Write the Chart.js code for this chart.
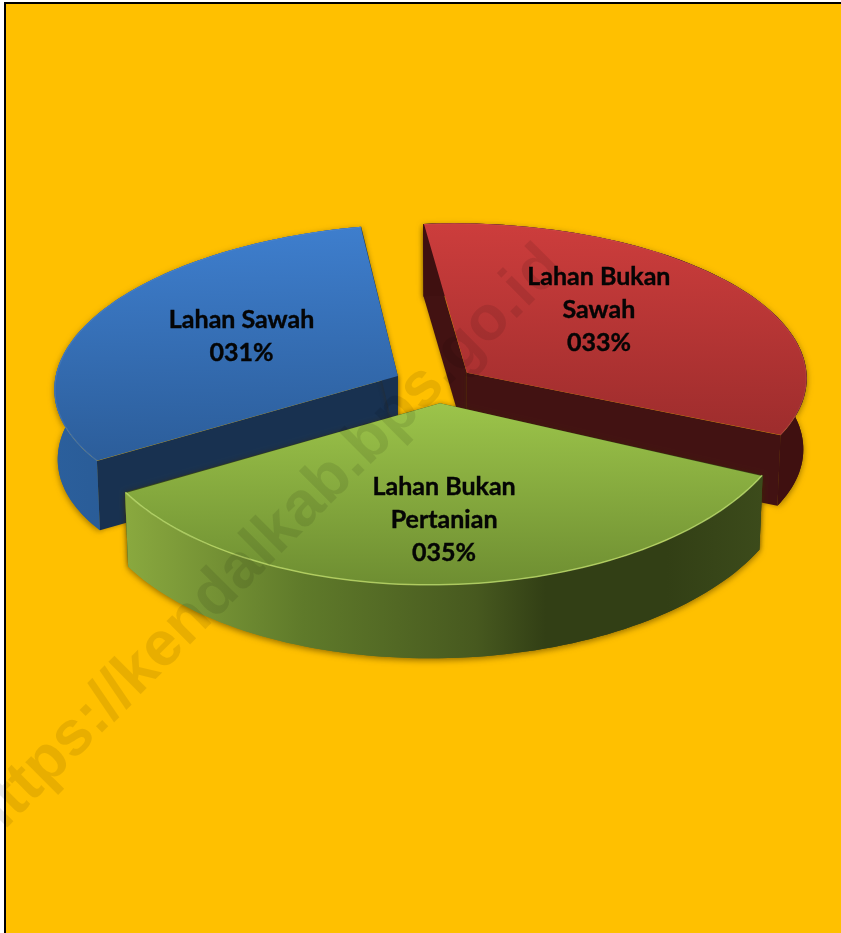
<!DOCTYPE html>
<html>
<head>
<meta charset="utf-8">
<title>Penggunaan Lahan</title>
<script src="https://cdn.jsdelivr.net/npm/chart.js@4"></script>
<style>
  html, body { margin: 0; padding: 0; background: #fff; overflow: hidden; }
  #kotak {
    position: absolute; left: 4px; top: 2px; right: 0; bottom: 0;
    background: #FFC000; border-left: 2px solid #000; border-top: 2px solid #000;
  }
  #grafik { position: absolute; left: 0; top: 0; }
</style>
</head>
<body>
<div id="kotak"></div>
<canvas id="grafik" width="841" height="933"></canvas>
<script>
const categories = ['Lahan Sawah', 'Lahan Bukan Sawah', 'Lahan Bukan Pertanian'];
const labelLines = [['Lahan Sawah'], ['Lahan Bukan', 'Sawah'], ['Lahan Bukan', 'Pertanian']];
const values = [31, 33, 35];

const topStops = [
    [[0, '#3e7ecd'], [0.78, '#2b5c98']],
    [[0, '#cc3d3c'], [0.72, '#9c2c2c']],
    [[0.5, '#9cc44a'], [1, '#6f8f32']]
];
const wallStops = [
    [[0, '#2b5f9c'], [1, '#234e80']],
    [[0, '#3f1010'], [1, '#3f1010']],
    [[0, '#8aa93f'], [0.28, '#5f7a2a'], [0.55, '#47591f'], [0.66, '#323f15'], [0.85, '#323f15'], [1, '#3c4b1b']]
];
const cutColors = ['#183150', '#421212', '#3a4a1a'];
const rimColors = ['rgba(255,255,255,0.08)', 'rgba(255,255,255,0.06)', 'rgba(205,235,125,0.65)'];
const labelAngles = [213.2, 311.6, 86.7];
const labelFractions = [0.556, 0.596, 0.65];

// kemiringan tiap irisan: x' = a x + c y, y' = e x + d y, lalu geser dan tebal
const vistas = [
    { a: 0.995, c: -0.02, e: -0.03, d: 0.44, gx: -1, gy: -1, z: 70 },
    { a: 0.978, c: 0.002, e: 0.015, d: 0.43, gx: 0, gy: -1, z: 71 },
    { a: 1.015, c: -0.04, e: 0.006, d: 0.519, gx: 4, gy: -2, z: 75 }
];

const pieRadius = 342;
const explode = 164;
const paddingBawah = 165;

// titik pada irisan setelah dimiringkan
function titik(arc, i, sudut, r, bawah) {
    const v = vistas[i];
    const mid = (arc.startAngle + arc.endAngle) / 2;
    const d = explode / 4;
    const k = bawah ? 0.99 : 1;
    const fx = Math.cos(mid) * d + k * r * Math.cos(sudut);
    const fy = Math.sin(mid) * d + k * r * Math.sin(sudut);
    return {
        x: arc.x + v.gx + v.a * fx + v.c * fy,
        y: arc.y + v.gy + v.e * fx + v.d * fy + (bawah ? v.z : 0)
    };
}

function jariLuar(arc) {
    const fix = 1 - Math.sin(Math.min(Math.PI, arc.circumference));
    return arc.outerRadius + (explode / 4) * fix;
}

function isiPoligon(ctx, pts, warna) {
    ctx.beginPath();
    pts.forEach((p, i) => i ? ctx.lineTo(p.x, p.y) : ctx.moveTo(p.x, p.y));
    ctx.closePath();
    ctx.fillStyle = warna;
    ctx.fill();
}

function busur(arc, i, r, bawah) {
    const pts = [];
    for (let n = 0; n <= 80; n++) {
        const a = arc.startAngle + (arc.endAngle - arc.startAngle) * n / 80;
        pts.push(titik(arc, i, a, r, bawah));
    }
    return pts;
}

function gambarDinding(ctx, arc, i) {
    const r = jariLuar(arc);
    const atas = busur(arc, i, r, false);
    const bawah = busur(arc, i, r, true);
    const pusatAtas = titik(arc, i, 0, 0, false);
    const pusatBawah = titik(arc, i, 0, 0, true);

    const xs = atas.map(p => p.x);
    const g = ctx.createLinearGradient(Math.min(...xs), 0, Math.max(...xs), 0);
    wallStops[i].forEach(s => g.addColorStop(s[0], s[1]));

    ctx.save();
    ctx.shadowColor = 'rgba(60,40,0,0.55)';
    ctx.shadowBlur = 6;
    ctx.shadowOffsetY = 2;
    isiPoligon(ctx, atas.concat(bawah.slice().reverse()), g);
    ctx.restore();

    ctx.save();
    ctx.shadowColor = 'rgba(60,40,0,0.45)';
    ctx.shadowBlur = 5;
    isiPoligon(ctx, [pusatAtas, atas[0], bawah[0], pusatBawah], cutColors[i]);
    isiPoligon(ctx, [pusatAtas, atas[80], bawah[80], pusatBawah], cutColors[i]);
    ctx.restore();
    // sisi luar digambar lagi supaya bayangan potongan tidak menimpanya
    isiPoligon(ctx, atas.concat(bawah.slice().reverse()), g);
}

const pie3d = {
    id: 'pie3d',
    beforeDatasetDraw(chart, args) {
        const ctx = chart.ctx;
        args.meta.data.forEach((arc, i) => {
            gambarDinding(ctx, arc, i);

            const v = vistas[i];
            ctx.save();
            ctx.translate(arc.x + v.gx, arc.y + v.gy);
            ctx.transform(v.a, v.e, v.c, v.d, 0, 0);
            ctx.translate(-arc.x, -arc.y);
            arc.draw(ctx, chart.chartArea);
            ctx.restore();

            ctx.beginPath();
            busur(arc, i, jariLuar(arc) - 0.5, false).forEach((p, n) => n ? ctx.lineTo(p.x, p.y) : ctx.moveTo(p.x, p.y));
            ctx.strokeStyle = rimColors[i];
            ctx.lineWidth = 1.5;
            ctx.stroke();
        });
        return false;
    },
    afterDraw(chart) {
        const ctx = chart.ctx;
        const arcs = chart.getDatasetMeta(0).data;
        ctx.save();
        ctx.textAlign = 'center';
        ctx.textBaseline = 'middle';
        ctx.fillStyle = '#050505';
        ctx.strokeStyle = '#050505';
        ctx.lineWidth = 0.4;
        ctx.font = 'bold 25px Lato';
        arcs.forEach((arc, i) => {
            const p = titik(arc, i, labelAngles[i] * Math.PI / 180, arc.outerRadius * labelFractions[i], false);
            const baris = labelLines[i].concat(String(values[i]).padStart(3, '0') + '%');
            baris.forEach((teks, n) => {
                const y = p.y + 1 + (n - (baris.length - 1) / 2) * 33;
                ctx.fillText(teks, p.x, y);
                ctx.strokeText(teks, p.x, y);
            });
        });
        ctx.restore();

        ctx.save();
        ctx.translate(265, 545);
        ctx.rotate(-45 * Math.PI / 180);
        ctx.textAlign = 'center';
        ctx.textBaseline = 'middle';
        ctx.font = 'bold 63px "Liberation Sans"';
        ctx.fillStyle = 'rgba(0,0,0,0.09)';
        ctx.fillText('https://kendalkab.bps.go.id', 0, 0);
        ctx.restore();
    }
};

function warnaAtas(context) {
    const chart = context.chart;
    const i = context.dataIndex;
    const tengah = (chart.height - paddingBawah) / 2;
    const g = chart.ctx.createLinearGradient(0, tengah - pieRadius, 0, tengah + pieRadius);
    topStops[i].forEach(s => g.addColorStop(s[0], s[1]));
    return g;
}

new Chart(document.getElementById('grafik'), {
    type: 'pie',
    data: {
        labels: categories,
        datasets: [{
            data: values,
            backgroundColor: warnaAtas,
            borderWidth: 0,
            offset: explode
        }]
    },
    options: {
        responsive: false,
        devicePixelRatio: 1,
        animation: false,
        rotation: 240,
        radius: pieRadius,
        layout: { padding: { left: 29, bottom: paddingBawah } },
        plugins: { legend: { display: false }, tooltip: { enabled: false } }
    },
    plugins: [pie3d]
});
</script>
</body>
</html>
